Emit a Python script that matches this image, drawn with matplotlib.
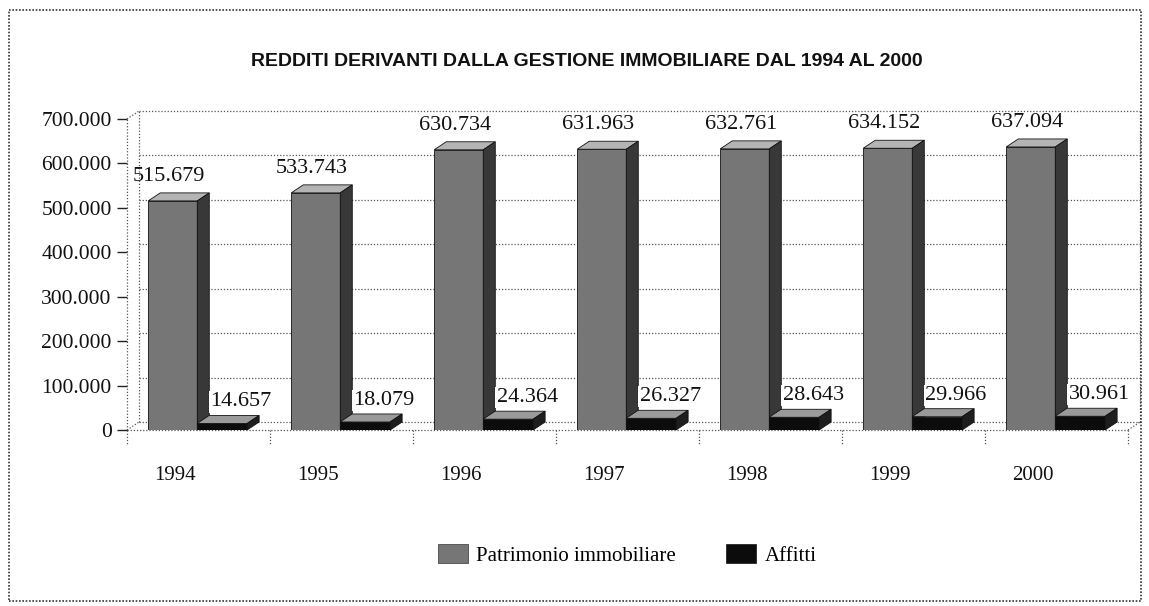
import matplotlib
matplotlib.use("Agg")
import matplotlib.pyplot as plt
from matplotlib.patches import Polygon, Rectangle, Patch

# ---- data ----
years = ["1994", "1995", "1996", "1997", "1998", "1999", "2000"]
patrimonio = [515679, 533743, 630734, 631963, 632761, 634152, 637094]
affitti = [14657, 18079, 24364, 26327, 28643, 29966, 30961]
series_names = ["Patrimonio immobiliare", "Affitti"]
yticks = [0, 100000, 200000, 300000, 400000, 500000, 600000, 700000]
ytick_labels = ["0", "100.000", "200.000", "300.000", "400.000", "500.000", "600.000", "700.000"]
title = "REDDITI DERIVANTI DALLA GESTIONE IMMOBILIARE DAL 1994 AL 2000"


def fmt(v):
    return f"{v:,}".replace(",", ".")


W, H = 1149, 606
fig = plt.figure(figsize=(W / 100, H / 100), dpi=100)
fig.patch.set_facecolor("white")

# axes box in pixels (front plane)
ax_l, ax_r, ax_b, ax_t = 127, 1128, 430, 119
ax = fig.add_axes([ax_l / W, 1 - ax_b / H, (ax_r - ax_l) / W, (ax_b - ax_t) / H])
ax.set_xlim(0, len(years))
ax.set_ylim(0, 700000)
for s in ax.spines.values():
    s.set_visible(False)
ax.set_facecolor("none")

# 3D depth in pixels -> data units
depth_px = (12, 8)
px_per_x = (ax_r - ax_l) / len(years)
px_per_y = (ax_b - ax_t) / 700000
dx = depth_px[0] / px_per_x
dy = depth_px[1] / px_per_y

grid_kw = dict(color="#555555", lw=0.9, ls=(0, (1, 1.5)), clip_on=False, zorder=1)
ymax = 700000
n = len(years)
# back wall grid
for v in yticks:
    ax.plot([dx, n + dx], [v + dy, v + dy], **grid_kw)
ax.plot([dx, dx], [dy, ymax + dy], **grid_kw)
ax.plot([n + dx, n + dx], [dy, ymax + dy], **grid_kw)
# left wall / floor edges
ax.plot([0, 0], [0, ymax], **grid_kw)
ax.plot([0, dx], [ymax, ymax + dy], **grid_kw)
ax.plot([0, dx], [0, dy], **grid_kw)
ax.plot([0, n], [0, 0], **grid_kw)
ax.plot([n, n + dx], [0, dy], **grid_kw)
# category separators below floor
sep = 14 / px_per_y
for k in range(n + 1):
    ax.plot([k, k], [0, -sep], **grid_kw)

# y ticks
ax.set_yticks(yticks)
ax.set_yticklabels(ytick_labels, family="Liberation Serif", fontsize=15.5, color="#111111")
ax.tick_params(axis="y", length=7, width=1.0, color="#222222", pad=4)
# x labels
xpos = [i + 0.335 for i in range(n)]
ax.set_xticks(xpos)
ax.set_xticklabels(years, family="Liberation Serif", fontsize=15, color="#111111")
ax.tick_params(axis="x", length=0, pad=26)

bar_styles = [
    dict(off=0.32, w=0.343, front="#767676", top="#b4b4b4", side="#383838"),
    dict(off=0.665, w=0.35, front="#0c0c0c", top="#9a9a9a", side="#1e1e1e"),
]
series = [patrimonio, affitti]

for i in range(n):
    for si, vals in enumerate(series):
        st = bar_styles[si]
        v = vals[i]
        x0 = i + st["off"] - st["w"] / 2
        x1 = x0 + st["w"]
        z = 3 + si
        ax.bar(i + st["off"], v, st["w"], color=st["front"], edgecolor="#111111",
               lw=0.6, zorder=z)
        ax.add_patch(Polygon([(x0, v), (x1, v), (x1 + dx, v + dy), (x0 + dx, v + dy)],
                             closed=True, fc=st["top"], ec="#111111", lw=0.6,
                             zorder=z, clip_on=False))
        ax.add_patch(Polygon([(x1, 0), (x1 + dx, dy), (x1 + dx, v + dy), (x1, v)],
                             closed=True, fc=st["side"], ec="#111111", lw=0.6,
                             zorder=z, clip_on=False))

# value labels
for i in range(n):
    ax.annotate(fmt(patrimonio[i]), (i + 0.32, patrimonio[i] + dy),
                xytext=(-4, 7), textcoords="offset pixels", ha="center", va="bottom",
                family="Liberation Serif", fontsize=16, color="#111111", zorder=10,
                annotation_clip=False)
    ax.annotate(fmt(affitti[i]), (i + 0.665, affitti[i] + dy),
                xytext=(19, 4), textcoords="offset pixels", ha="center", va="bottom",
                family="Liberation Serif", fontsize=16, color="#111111", zorder=10,
                annotation_clip=False,
                bbox=dict(boxstyle="square,pad=0.05", fc="white", ec="none"))

# title
fig.text(587 / W, 1 - 61 / H, title, ha="center", va="center",
         family="Liberation Sans", weight="bold", fontsize=14, color="#111111")

# legend
handles = [Patch(fc=bar_styles[0]["front"], ec="#333333", lw=0.5),
           Patch(fc=bar_styles[1]["front"], ec="#111111", lw=0.5)]
fig.legend(handles, series_names, loc="center", bbox_to_anchor=(627 / W, 1 - 555 / H),
           ncol=2, frameon=False, prop=dict(family="Liberation Serif", size=15),
           handlelength=1.45, handleheight=1.0, handletextpad=0.4, columnspacing=2.4)

# outer dotted border
fig.add_artist(Rectangle((9 / W, 1 - 601 / H), (1141 - 9) / W, (601 - 10) / H,
                         transform=fig.transFigure, fill=False, ec="#333333",
                         lw=1.2, ls=(0, (1, 1))))

fig.savefig("out.png", dpi=100)
